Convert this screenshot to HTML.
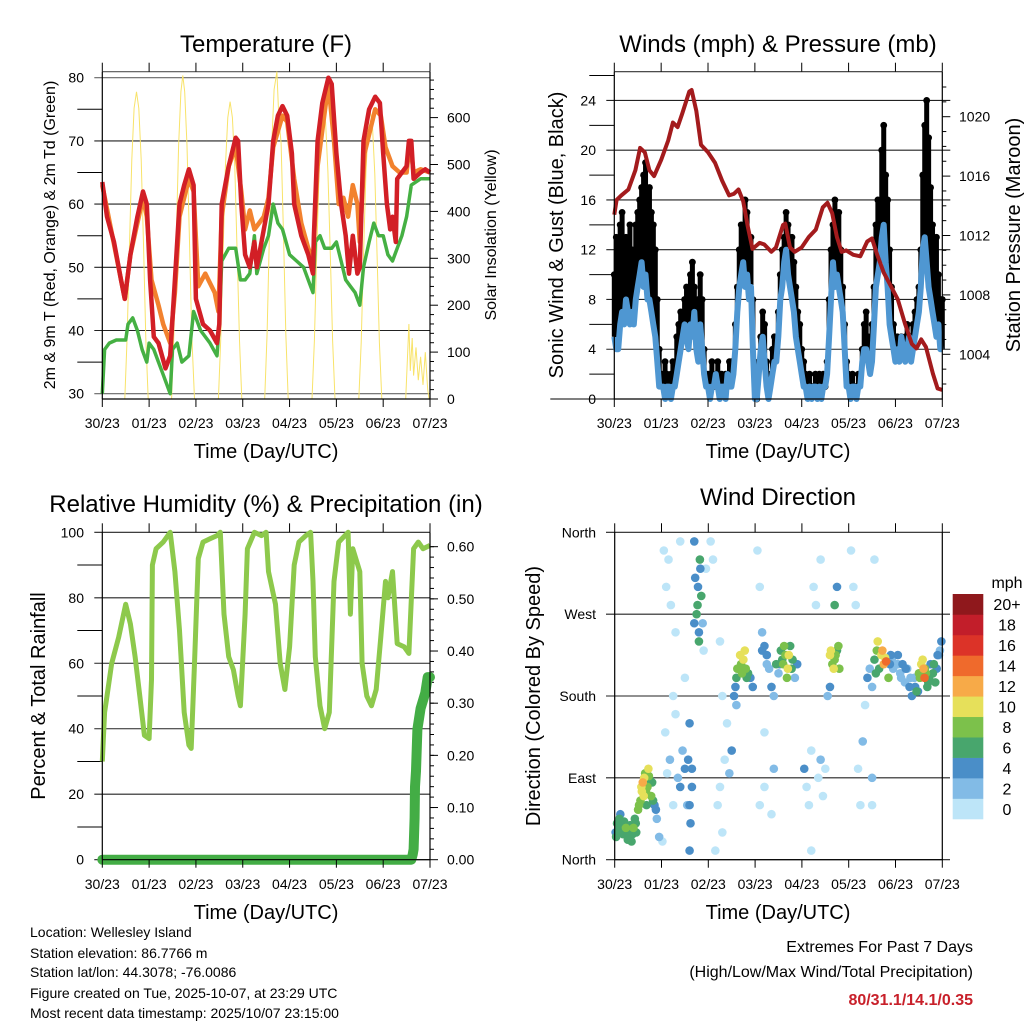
<!DOCTYPE html>
<html><head><meta charset="utf-8">
<style>
html,body{margin:0;padding:0;background:#fff;}
svg{display:block;font-family:"Liberation Sans",sans-serif;}
</style></head>
<body>
<svg id="root" width="1024" height="1024" viewBox="0 0 1024 1024" xmlns="http://www.w3.org/2000/svg">
<rect x="0" y="0" width="1024" height="1024" fill="#fff"/>
<g id="g1"></g>
<g id="g2"></g>
<g id="g3"></g>
<g id="g4"></g>

<text x="266" y="52" font-size="24" text-anchor="middle">Temperature (F)</text>
<text x="778" y="52" font-size="24" text-anchor="middle">Winds (mph) &amp; Pressure (mb)</text>
<text x="266" y="512" font-size="24" text-anchor="middle">Relative Humidity (%) &amp; Precipitation (in)</text>
<text x="778" y="505" font-size="24" text-anchor="middle">Wind Direction</text>

<text x="266" y="458" font-size="20" text-anchor="middle">Time (Day/UTC)</text>
<text x="778" y="458" font-size="20" text-anchor="middle">Time (Day/UTC)</text>
<text x="266" y="919" font-size="20" text-anchor="middle">Time (Day/UTC)</text>
<text x="778" y="919" font-size="20" text-anchor="middle">Time (Day/UTC)</text>

<text transform="translate(55,235) rotate(-90)" font-size="16" text-anchor="middle">2m &amp; 9m T (Red, Orange) &amp; 2m Td (Green)</text>
<text transform="translate(496,235) rotate(-90)" font-size="16" text-anchor="middle">Solar Insolation (Yellow)</text>
<text transform="translate(563,235) rotate(-90)" font-size="20" text-anchor="middle">Sonic Wind &amp; Gust (Blue, Black)</text>
<text transform="translate(1020,235) rotate(-90)" font-size="20" text-anchor="middle">Station Pressure (Maroon)</text>
<text transform="translate(45,696) rotate(-90)" font-size="20" text-anchor="middle">Percent &amp; Total Rainfall</text>
<text transform="translate(540,696) rotate(-90)" font-size="20" text-anchor="middle">Direction (Colored By Speed)</text>

<g font-size="14">
<text x="30" y="937">Location: Wellesley Island</text>
<text x="30" y="958">Station elevation: 86.7766 m</text>
<text x="30" y="977">Station lat/lon: 44.3078; -76.0086</text>
<text x="30" y="998">Figure created on Tue, 2025-10-07, at 23:29 UTC</text>
<text x="30" y="1018">Most recent data timestamp: 2025/10/07 23:15:00</text>
</g>
<g font-size="16" text-anchor="end">
<text x="973" y="952">Extremes For Past 7 Days</text>
<text x="973" y="977">(High/Low/Max Wind/Total Precipitation)</text>
<text x="973" y="1005" fill="#c8202a" font-weight="bold">80/31.1/14.1/0.35</text>
</g>
</svg>
<script>
// ---------------- DATA ----------------
const dayLabels = ["30/23","01/23","02/23","03/23","04/23","05/23","06/23","07/23"];
// Temperature panel
const redT = [0,0.1,0.25,0.4,0.48,0.6,0.75,0.87,0.95,1.02,1.1,1.2,1.35,1.45,1.55,1.65,1.75,1.85,1.95,2.0,2.15,2.3,2.45,2.5,2.55,2.7,2.85,2.9,2.97,3.05,3.15,3.25,3.3,3.4,3.45,3.55,3.65,3.75,3.85,3.95,4.05,4.1,4.25,4.4,4.5,4.52,4.6,4.7,4.83,4.9,5.0,5.1,5.2,5.27,5.35,5.45,5.5,5.58,5.7,5.83,5.93,6.0,6.08,6.15,6.2,6.27,6.3,6.4,6.5,6.55,6.6,6.65,6.8,6.9,7.0];
const redV = [63.5,58,54,48,45,52,58,62,60,48,39,38,34,36,48,60,63,65.5,63,45,41,40,38,41,60,66,70.5,70,60,52,50,54,50,54,56,60,70,74,75.5,74,68,60,55,52,49,55,70,76,80,79,68,60,55,49,55,49,50,70,75,77,76,68,60,56,58,54,64,65,66,70,70,64,65,65.5,65];
const orgT = [0,0.48,0.6,0.87,0.95,1.05,1.2,1.3,1.45,1.55,1.65,1.85,1.95,2.05,2.2,2.4,2.48,2.55,2.7,2.85,2.97,3.05,3.15,3.25,3.35,3.45,3.55,3.65,3.85,3.95,4.1,4.25,4.4,4.5,4.6,4.83,4.95,5.05,5.15,5.25,5.35,5.45,5.5,5.6,5.83,5.95,6.05,6.2,6.35,6.5,6.57,6.65,6.8,7.0];
const orgV = [63,45,52,61,58,48,44,41,38,46,58,64,62,47,49,46,43,58,66,69,62,56,59,56,57,58,61,69,74,73,64,57,53,51,66,79,70,60,61,58,63,60,54,68,75,74,69,66,65,65,70,65,65.5,65];
const dewT = [0,0.05,0.15,0.3,0.5,0.55,0.65,0.75,0.85,0.95,1.0,1.1,1.2,1.3,1.45,1.5,1.6,1.7,1.85,1.95,2.1,2.3,2.45,2.5,2.55,2.7,2.85,2.95,3.05,3.15,3.25,3.3,3.45,3.55,3.65,3.75,3.85,4.0,4.15,4.3,4.45,4.5,4.55,4.65,4.75,4.9,5.0,5.1,5.2,5.3,5.4,5.5,5.58,5.7,5.8,5.9,6.0,6.1,6.2,6.3,6.4,6.5,6.6,6.8,7.0];
const dewV = [30,37,38,38.5,38.5,41,42,40,37,35,38,37,35,33,30,37,38,35,36,43,40,38,36,41,51,53,53,48,48,49,55,49,53,55,60,57,56,52,51,50,47,46,54,55,53,53,54,51,48,47,46,44,50,54,57,55,55,52,51,53,55,58,63,64,64];
const solarT = [0,0.48,0.53,0.58,0.63,0.68,0.73,0.78,0.83,0.88,0.93,0.98,
 1.48,1.53,1.58,1.63,1.68,1.72,1.76,1.81,1.86,1.91,1.97,
 2.48,2.53,2.58,2.63,2.68,2.73,2.78,2.83,2.88,2.93,2.98,
 3.47,3.52,3.57,3.62,3.67,3.73,3.77,3.82,3.87,3.92,3.97,
 4.48,4.53,4.58,4.63,4.68,4.72,4.77,4.82,4.87,4.92,4.97,
 5.48,5.53,5.58,5.63,5.68,5.72,5.77,5.82,5.87,5.92,5.97,
 6.48,6.52,6.55,6.58,6.62,6.65,6.7,6.75,6.8,6.85,6.9,6.95,6.98,7.0];
const solarV = [0,0,130,330,510,620,655,620,510,330,130,0,
 0,140,345,540,655,690,655,540,345,140,0,
 0,125,315,495,600,634,600,495,315,125,0,
 0,140,350,545,660,698,600,545,350,140,0,
 0,125,310,485,590,620,590,485,310,125,0,
 0,120,305,480,585,615,585,480,305,120,0,
 0,90,160,60,130,50,110,40,90,30,100,20,0,0];
// Wind panel (hourly, day 0 h0 .. day 7 h0)
const windMean = [5,4,4,6,7,6,8,7,6,7,6,8,9,10,11,9,10,8,8,7,6,5,3,1,
 1,1,0,1,1,0,1,1,2,3,4,5,6,5,4,6,5,7,4,3,6,4,2,1,
 1,0,1,1,2,1,0,1,1,0,2,1,1,2,4,7,9,10,11,9,10,8,9,4,
 0,0,2,4,5,3,1,0,1,2,3,3,5,8,9,11,12,10,9,8,7,5,4,3,
 2,1,1,0,1,0,1,1,0,1,0,1,1,2,5,8,11,9,10,9,8,7,4,1,
 1,0,1,1,0,1,1,3,4,4,3,2,3,6,9,10,11,13,14,11,9,6,5,4,
 3,4,3,5,4,3,4,5,3,4,5,6,7,9,12,13,11,9,8,7,6,5,6,4,4];
const windGust = [10,13,12,14,15,11,13,12,14,12,10,14,15,16,17,18,19,16,17,15,14,12,8,4,
 2,2,3,2,1,2,3,2,5,6,7,6,8,9,8,10,11,9,7,8,10,8,4,2,
 2,2,3,1,2,3,2,2,1,2,2,3,3,3,6,9,12,14,13,16,15,12,13,8,
 1,0,3,5,7,6,3,1,2,4,5,4,7,10,12,13,15,14,12,13,11,9,7,6,
 4,3,2,1,2,1,1,2,1,2,1,2,1,3,8,12,14,16,13,15,12,9,6,3,
 2,1,2,1,1,2,2,4,6,7,5,3,6,9,14,16,15,20,22,18,16,12,9,6,
 5,5,4,5,4,5,6,5,4,6,7,8,9,12,18,22,24,21,17,14,12,13,10,8,8];
const presT = [0,0.05,0.15,0.3,0.45,0.55,0.65,0.75,0.85,1.0,1.15,1.25,1.35,1.45,1.6,1.65,1.75,1.85,2.0,2.15,2.3,2.45,2.55,2.65,2.75,2.85,2.95,3.1,3.2,3.35,3.45,3.6,3.65,3.75,3.85,4.0,4.15,4.3,4.45,4.55,4.65,4.75,4.85,4.95,5.1,5.25,5.4,5.5,5.6,5.75,5.9,6.05,6.2,6.35,6.45,6.55,6.65,6.8,6.9,7.0];
const presV = [1013.4,1014.4,1014.7,1015.1,1016.4,1017.9,1017.6,1016.4,1016.0,1017.1,1018.4,1019.6,1019.3,1020.2,1021.7,1021.8,1020.4,1018.1,1017.6,1016.9,1015.7,1014.7,1014.8,1015.1,1014.3,1012.6,1011.1,1011.5,1011.4,1010.9,1011.2,1012.7,1012.8,1011.2,1010.9,1011.2,1011.9,1012.4,1013.9,1014.2,1013.5,1011.9,1010.9,1011.0,1010.7,1010.6,1011.6,1011.8,1010.8,1009.5,1008.6,1007.7,1006.1,1004.7,1004.4,1005.0,1004.5,1002.7,1001.7,1001.6];
// Humidity / precip
const rhT = [0,0.05,0.1,0.2,0.35,0.5,0.6,0.7,0.8,0.9,1.0,1.05,1.07,1.15,1.3,1.45,1.55,1.65,1.75,1.85,1.9,1.97,2.05,2.15,2.3,2.45,2.52,2.6,2.7,2.8,2.9,2.95,3.05,3.1,3.25,3.4,3.5,3.55,3.7,3.8,3.9,4.0,4.1,4.2,4.35,4.45,4.5,4.55,4.65,4.75,4.85,4.95,5.05,5.25,5.3,5.35,5.5,5.55,5.65,5.75,5.85,5.95,6.05,6.1,6.2,6.3,6.45,6.55,6.65,6.75,6.85,7.0];
const rhV = [30,45,50,60,68,78,72,62,50,38,37,55,90,95,97,100,88,70,45,35,34,60,92,97,98,99,100,75,62,58,50,47,75,95,100,99,100,88,78,60,52,65,90,97,99,100,85,62,47,40,45,85,97,100,75,95,88,60,50,47,52,68,85,80,88,66,65,63,95,97,95,96];
const precipT = [0,1,2,3,4,5,6,6.6,6.63,6.65,6.67,6.68,6.7,6.73,6.8,6.9,6.95,7.0];
const precipV = [0,0,0,0,0,0,0,0,0.01,0.02,0.08,0.14,0.17,0.25,0.29,0.32,0.35,0.35];
// Wind direction: time (days), direction (deg), speed (mph)
const dirT = [0.02,0.05,0.08,0.1,0.12,0.15,0.18,0.2,0.24,0.27,0.3,0.33,0.36,0.4,0.43,0.46,0.5,0.55,0.58,0.6,0.62,0.65,0.68,0.7,0.72,0.75,0.78,0.82,0.85,0.9,0.95,
1.05,1.1,1.15,1.2,1.25,1.3,1.02,1.08,1.12,1.18,1.25,1.35,1.4,1.45,1.5,1.55,1.6,1.62,1.65,1.7,1.72,1.75,1.78,1.8,1.82,1.85,1.88,1.9,1.95,1.4,1.3,1.5,
2.05,2.1,2.15,2.2,2.25,2.3,2.35,2.4,2.45,2.5,2.55,2.6,2.65,2.7,2.75,2.8,2.85,2.9,2.95,2.6,2.3,2.25,
3.05,3.1,3.15,3.2,3.25,3.3,3.35,3.4,3.45,3.5,3.55,3.6,3.65,3.7,3.75,3.8,3.85,3.9,3.1,3.2,3.35,3.4,3.2,
4.05,4.1,4.15,4.2,4.25,4.3,4.35,4.4,4.45,4.5,4.55,4.6,4.65,4.7,4.75,4.8,4.7,4.75,4.6,4.2,4.4,
5.05,5.1,5.15,5.2,5.25,5.3,5.35,5.4,5.45,5.5,5.55,5.6,5.65,5.7,5.75,5.8,5.85,5.9,5.95,5.5,5.5,5.55,
6.0,6.05,6.1,6.15,6.2,6.25,6.3,6.35,6.4,6.45,6.5,6.55,6.6,6.62,6.65,6.7,6.75,6.8,6.85,6.9,6.95,6.98,
0.03,0.07,0.13,0.17,0.22,0.28,0.38,0.45,0.52,0.57,0.63,0.67,0.73,0.8,0.88,
1.6,1.65,1.7,1.77,1.8,1.83,1.6,1.57,
2.62,2.68,2.72,2.78,2.82,2.58,
3.52,3.58,3.62,3.68,3.72,3.78,3.15,3.25,
4.62,4.68,4.72,4.78,
5.58,5.62,5.72,5.78,5.88,5.92,
6.05,6.12,6.22,6.32,6.42,6.48,6.52,6.58,6.63,6.68,6.72,6.82,6.88,6.93];
const dirV = [30,40,35,45,50,38,28,42,35,30,25,38,20,35,45,30,55,65,75,85,70,95,60,80,100,88,70,65,60,45,25,
340,300,330,280,180,160,20,140,95,110,60,90,80,120,100,60,10,40,100,350,310,270,300,250,330,290,260,230,320,350,250,200,
350,330,10,60,80,30,110,150,95,120,180,200,210,215,220,210,205,200,190,170,180,240,
340,300,250,235,225,210,190,180,215,205,230,215,225,210,235,220,200,215,60,80,50,100,140,
100,80,60,120,300,280,90,110,70,100,180,225,215,220,230,210,280,300,190,10,330,
340,300,280,100,60,130,170,200,210,190,220,230,210,225,215,218,200,225,210,90,60,330,
215,225,205,215,195,210,190,180,200,185,205,215,210,200,205,195,215,205,195,225,230,240,
25,32,42,30,38,22,28,40,60,80,90,75,92,85,55,
60,80,260,280,240,320,150,110,
210,225,205,230,200,190,
215,220,235,200,225,210,230,215,
230,210,225,235,
205,240,230,222,215,220,
215,200,210,200,190,185,200,220,210,190,200,215,210,225];
const dirS = [5,6,5,6,5,7,6,7,8,7,6,7,6,8,7,6,8,9,10,12,10,9,7,8,10,7,8,6,4,3,2,
0,0,1,0,0,1,1,1,1,2,1,3,4,3,4,3,4,4,5,4,5,6,5,4,6,7,2,1,1,1,0,1,
0,1,0,1,1,0,0,1,2,4,5,6,8,9,10,9,7,5,4,3,0,0,
0,1,2,4,5,3,4,2,6,3,7,8,9,10,7,6,3,4,0,1,1,2,0,
4,1,1,0,1,0,1,2,1,0,3,10,9,8,7,9,6,4,4,0,0,
0,1,0,0,1,2,1,4,3,2,6,8,7,10,12,14,8,4,2,2,1,1,
3,4,2,4,3,2,5,4,3,6,8,10,12,14,9,6,5,7,6,4,3,4,
6,7,6,5,6,7,6,7,9,10,10,8,9,7,4,
4,4,5,6,6,5,5,5,
9,10,8,11,6,4,
5,7,9,8,11,6,4,3,
11,10,8,9,
7,10,13,10,5,3,
2,3,4,2,5,4,9,11,9,7,6,6,5,3];
const speedLabels = ["0","2","4","6","8","10","12","14","16","18","20+"];
const speedColors = ["#bde5f8","#82bbe6","#4a8ec8","#48a66d","#7cc14b","#e6e05a","#f7aa48","#ef6a2c","#dc3328","#c21e2a","#8f181c"];

// ---------------- HELPERS ----------------
const NS="http://www.w3.org/2000/svg";
function mk(parent, tag, attrs){
  const el=document.createElementNS(NS,tag);
  for(const k in attrs) el.setAttribute(k,attrs[k]);
  parent.appendChild(el);
  return el;
}
function txt(parent, x, y, s, anchor, size){
  const el=mk(parent,"text",{x:x,y:y,"font-size":size||14,"text-anchor":anchor||"start"});
  el.textContent=s;
  return el;
}
function pathFrom(ts, vs, xf, yf){
  let d="";
  for(let i=0;i<ts.length;i++){ d+=(i?"L":"M")+xf(ts[i]).toFixed(1)+","+yf(vs[i]).toFixed(1); }
  return d;
}
function xAxis(g, x0, x1, y0, y1, labelY){
  for(let i=0;i<dayLabels.length;i++){
    const x=x0+i*(x1-x0)/7;
    const t1=mk(g,"line",{x1:x,y1:y0-9,x2:x,y2:y0,stroke:"#000","stroke-width":1});
    
    
    const t2=mk(g,"line",{x1:x,y1:y1,x2:x,y2:y1+8,stroke:"#000","stroke-width":1});
    
    
    const l=txt(g,x,labelY,dayLabels[i],"middle",14);
    
    
  }
}
function frame(g,x0,x1,y0,y1){
  const f=mk(g,"path",{d:`M${x0},${y1}L${x0},${y0}M${x1},${y0}L${x1},${y1}L${x0},${y1}`,stroke:"#000","stroke-width":1.2,fill:"none"});
  
  
}
function hgrid(g,xa,xb,y,col){
  const l=mk(g,"line",{x1:xa,y1:y,x2:xb,y2:y,stroke:col||"#222","stroke-width":1.1});
  
  
}
function yTick(g,x,y,dir,len){
  const l=mk(g,"line",{x1:x,y1:y,x2:x+dir*len,y2:y,stroke:"#000","stroke-width":1});
  
  
}
function yLab(g,x,y,s,anchor){
  const l=txt(g,x,y+5,s,anchor,14);
  
  
}

// ---------------- PANEL 1: Temperature ----------------
(function(){
  const g=document.getElementById("g1");
  const x0=102.3,x1=430,y0=71.7,y1=399;
  const X=t=>x0+t*(x1-x0)/7;
  const YT=v=>77.7+(80-v)*6.32;
  const YS=v=>399-v*0.469;
  hgrid(g,x0,x1,y0,"#555");
  for(let v=30;v<=80;v+=10){ hgrid(g,x0-8,x1,YT(v),(v==30||v==80)?"#666":"#222"); yLab(g,84,YT(v),String(v),"end"); }
  for(let v=35;v<80;v+=10){ yTick(g,x0,YT(v),-5,5); }
  for(let v=0;v<=600;v+=100){ yTick(g,x1,YS(v),1,8); yLab(g,447,YS(v),String(v),"start"); }
  for(let v=20;v<=680;v+=20){ if(v%100) yTick(g,x1,YS(v),1,4); }
  const sol=mk(g,"path",{d:pathFrom(solarT,solarV,X,YS),stroke:"#f8e36a","stroke-width":1,fill:"none"});
  
  
  const dew=mk(g,"path",{d:pathFrom(dewT,dewV,X,YT),stroke:"#45b043","stroke-width":3.5,fill:"none","stroke-linejoin":"round"});
  
  
  const org=mk(g,"path",{d:pathFrom(orgT,orgV,X,YT),stroke:"#f2822e","stroke-width":4.5,fill:"none","stroke-linejoin":"round"});
  
  
  const red=mk(g,"path",{d:pathFrom(redT,redV,X,YT),stroke:"#d21f26","stroke-width":4.5,fill:"none","stroke-linejoin":"round"});
  
  
  frame(g,x0,x1,y0,y1);
  xAxis(g,x0,x1,y0,y1,428);
})();

// ---------------- PANEL 2: Wind & Pressure ----------------
(function(){
  const g=document.getElementById("g2");
  const x0=614.3,x1=942.3,y0=71.7,y1=399;
  const X=t=>x0+t*(x1-x0)/7;
  const YW=v=>399-v*12.44;
  const YP=v=>116.7+(1020-v)*14.85;
  hgrid(g,x0,x1,y0,"#333");
  for(let v=0;v<=24;v+=4){ if(v>0) hgrid(g,x0-8,x1+8,YW(v),"#222"); else yTick(g,x0,YW(v),-8,8); yLab(g,596,YW(v),String(v),"end"); }
  for(let v=2;v<=26;v+=4){ yTick(g,x0,YW(v),-5,5); }
  for(let v=1004;v<=1020;v+=4){ yTick(g,x1,YP(v),1,8); yLab(g,959,YP(v),String(v),"start"); }
  for(let v=1002;v<=1022;v+=1){ if(v%4) yTick(g,x1,YP(v),1,4); }
  const hrs=windGust.map((_,i)=>i/24);
  const gd=mk(g,"g",{fill:"#000"});
  
  
  for(let i=0;i<windGust.length;i++){
    const s=mk(gd,"line",{x1:X(hrs[i]),y1:YW(windGust[i]),x2:X(hrs[i]),y2:YW(windMean[i]),stroke:"#000","stroke-width":5});
    
    
    const c=mk(gd,"circle",{cx:X(hrs[i]),cy:YW(windGust[i]),r:3.4});
    
    
  }
  const wl=mk(g,"path",{d:pathFrom(hrs,windMean,X,YW),stroke:"#4f97d2","stroke-width":6,fill:"none","stroke-linejoin":"round"});
  
  
  const pl=mk(g,"path",{d:pathFrom(presT,presV,X,YP),stroke:"#a31b1d","stroke-width":4,fill:"none","stroke-linejoin":"round"});
  
  
  frame(g,x0,x1,y0,y1);
  xAxis(g,x0,x1,y0,y1,428);
})();

// ---------------- PANEL 3: RH & Precip ----------------
(function(){
  const g=document.getElementById("g3");
  const x0=102.3,x1=430,y0=532.3,y1=859.7;
  const X=t=>x0+t*(x1-x0)/7;
  const YR=v=>859.7-v*3.274;
  const YQ=v=>859.7-v*521.7;
  for(let v=0;v<=100;v+=20){ hgrid(g,x0-8,x1,YR(v),"#222"); yLab(g,84,YR(v),String(v),"end"); }
  for(let v=10;v<100;v+=20){ yTick(g,x0,YR(v),-5,5); }
  for(let v=0;v<=0.6001;v+=0.1){ yTick(g,x1,YQ(v),1,8); yLab(g,447,YQ(v),v.toFixed(2),"start"); }
  for(let v=0.02;v<=0.62;v+=0.02){ yTick(g,x1,YQ(v),1,4); }
  const rh=mk(g,"path",{d:pathFrom(rhT,rhV,X,YR),stroke:"#8dc94c","stroke-width":5,fill:"none","stroke-linejoin":"round"});
  
  
  const pr=mk(g,"path",{d:pathFrom(precipT,precipV,X,YQ),stroke:"#43ad45","stroke-width":10,fill:"none","stroke-linejoin":"round","stroke-linecap":"round"});
  
  
  frame(g,x0,x1,y0,y1);
  xAxis(g,x0,x1,y0,y1,889);
})();

// ---------------- PANEL 4: Wind direction ----------------
(function(){
  const g=document.getElementById("g4");
  const x0=614.7,x1=942.3,y0=532.3,y1=859.7;
  const X=t=>x0+t*(x1-x0)/7;
  const YD=v=>859.7-v*0.9094;
  const names=["North","East","South","West","North"];
  for(let i=0;i<5;i++){ hgrid(g,606,950,YD(i*90),"#222"); yLab(g,596,YD(i*90),names[i],"end"); }
  const pts=mk(g,"g",{});
  
  
  const order=dirT.map((_,i)=>i).sort((a,b)=>dirS[a]-dirS[b]);
  for(const i of order){
    const ci=Math.min(10,Math.floor(dirS[i]/2));
    const c=mk(pts,"circle",{cx:X(dirT[i]),cy:YD(dirV[i]),r:4.3,fill:speedColors[ci]});
    
    
  }
  frame(g,x0,x1,y0,y1);
  xAxis(g,x0,x1,y0,y1,889);
  const cb=mk(g,"g",{});
  
  
  const bh=(819-594)/11;
  for(let i=0;i<11;i++){
    const y=819-(i+1)*bh;
    const r=mk(cb,"rect",{x:952.7,y:y,width:30.6,height:bh+0.3,fill:speedColors[i]});
    
    
    const l=txt(cb,1007,y+bh/2+6,speedLabels[i],"middle",16);
    
    
  }
  const u=txt(cb,1007,588,"mph","middle",16);
  
  
})();
</script>
</body></html>
